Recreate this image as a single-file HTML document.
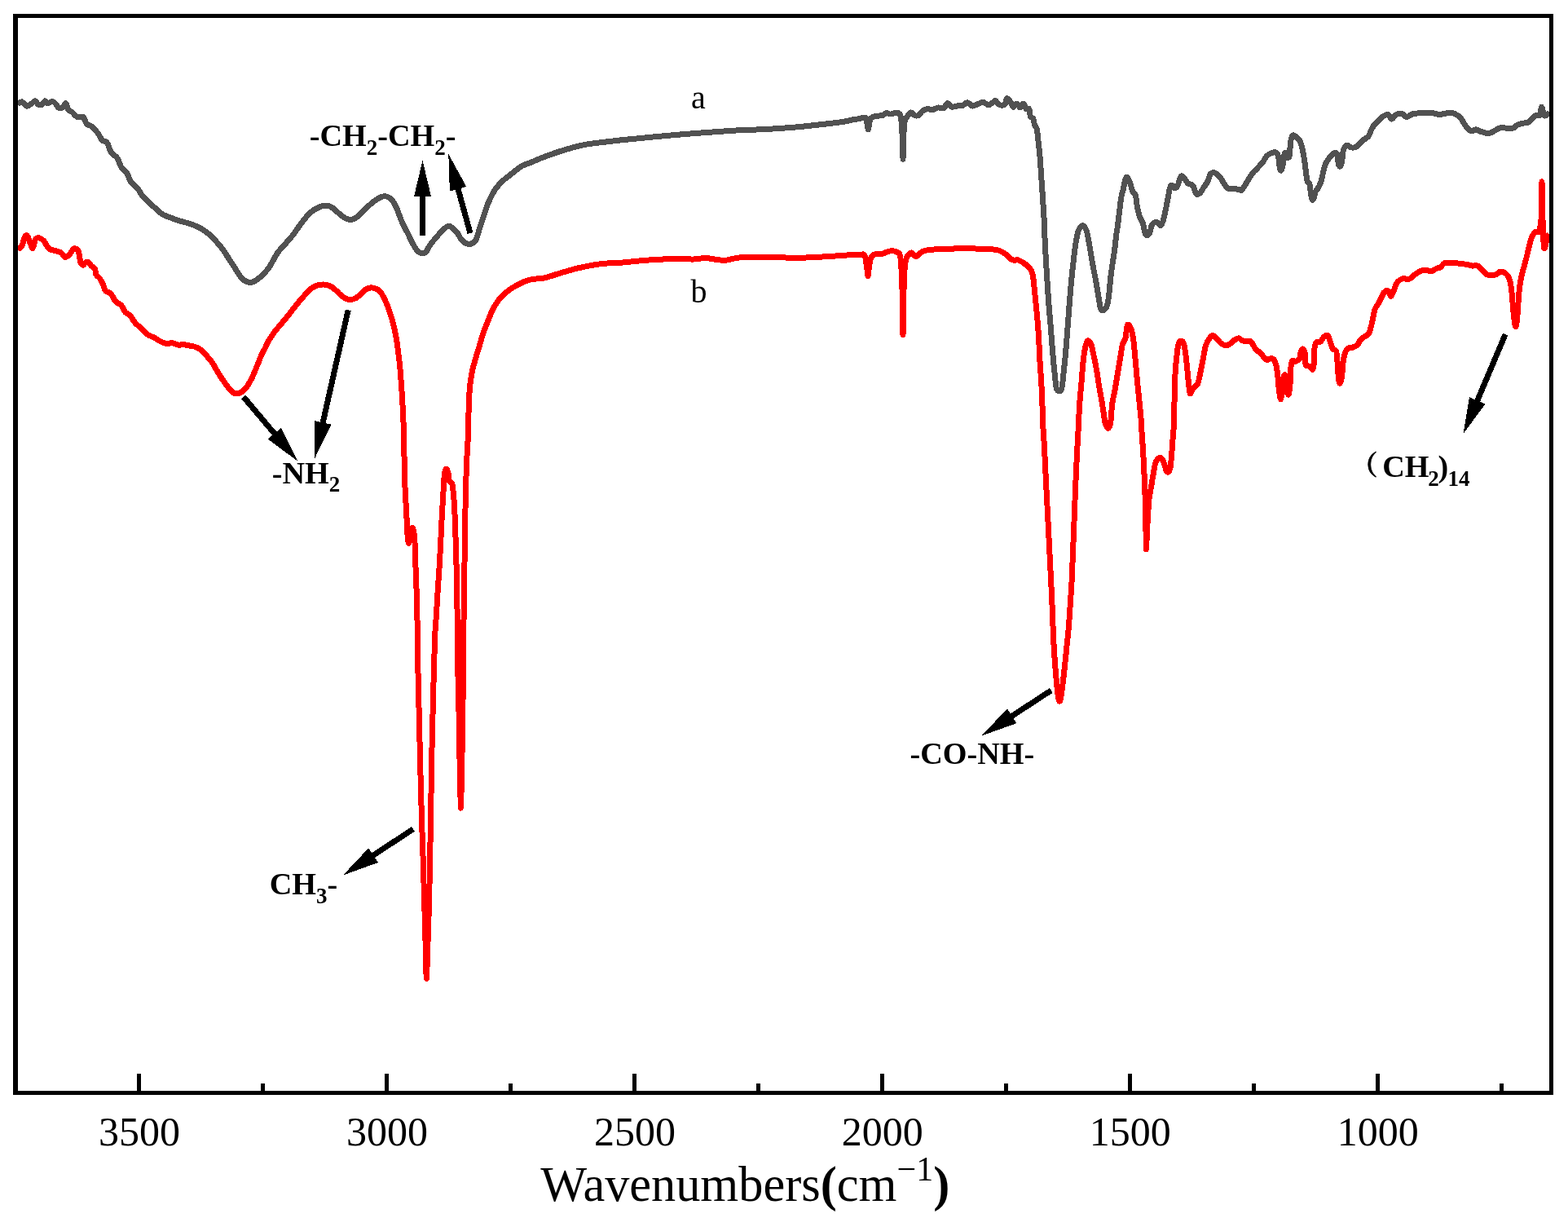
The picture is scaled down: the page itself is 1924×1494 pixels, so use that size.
<!DOCTYPE html>
<html lang="en"><head><meta charset="utf-8"><title>FTIR spectra</title>
<style>html,body{margin:0;padding:0;background:#fff;width:1924px;height:1494px;overflow:hidden}svg{display:block}text{font-family:"Liberation Serif","Noto Serif CJK SC",serif;fill:#000}.b{font-weight:bold}</style></head>
<body>
<svg width="1924" height="1494" viewBox="0 0 1924 1494">
<rect width="1924" height="1494" fill="#fff"/>
<g shape-rendering="crispEdges" fill="none" stroke-linejoin="round" stroke-linecap="butt" stroke-width="7.0">
<path stroke="#515151" d="M21.8,127.7 C22.6,127.2 25.0,124.4 26.8,124.9 C28.6,125.3 30.7,129.8 32.6,130.2 C34.6,130.6 36.7,128.3 38.5,127.2 C40.3,126.1 41.8,123.7 43.2,123.8 C44.6,124.0 45.4,127.5 46.9,128.2 C48.3,128.9 50.5,128.9 51.9,128.2 C53.3,127.5 54.1,124.1 55.2,123.8 C56.3,123.6 57.0,126.8 58.6,126.9 C60.1,126.9 62.8,124.2 64.4,124.4 C66.1,124.5 67.4,126.4 68.6,127.7 C69.9,129.0 70.6,131.5 72.0,132.2 C73.4,132.9 75.5,132.8 77.0,131.9 C78.4,130.9 79.6,126.1 80.7,126.5 C81.8,126.9 82.3,132.5 83.7,134.4 C85.0,136.3 86.9,136.3 88.7,137.7 C90.5,139.2 92.3,142.3 94.6,143.3 C96.8,144.2 100.1,142.1 102.1,143.6 C104.0,145.0 104.6,150.1 106.3,152.0 C107.9,153.9 109.9,153.2 112.1,155.0 C114.4,156.8 117.4,160.0 119.7,162.8 C121.9,165.7 123.6,170.0 125.5,172.1 C127.5,174.1 129.6,172.6 131.4,175.1 C133.2,177.6 134.3,184.0 136.4,187.1 C138.5,190.2 141.8,190.7 143.9,193.8 C146.0,196.9 147.0,202.5 149.0,205.5 C150.9,208.6 153.7,209.3 155.6,212.2 C157.6,215.1 158.4,219.9 160.7,223.1 C162.9,226.3 166.5,228.4 169.0,231.5 C171.5,234.5 172.4,237.7 175.7,241.5 C179.1,245.3 185.2,250.5 189.1,254.1 C193.0,257.6 194.4,260.1 199.2,262.8 C203.9,265.4 211.3,267.8 217.6,270.0 C223.9,272.1 231.1,273.5 237.0,275.9 C242.9,278.3 247.7,280.4 253.2,284.6 C258.7,288.8 264.9,295.5 269.8,301.3 C274.7,307.1 278.2,313.4 282.3,319.6 C286.4,325.8 291.8,334.6 294.7,338.7 C297.6,342.8 298.1,342.7 300.0,344.0 C301.9,345.3 304.2,346.3 306.4,346.4 C308.6,346.5 310.8,345.8 313.0,344.6 C315.2,343.5 316.9,342.2 319.7,339.5 C322.5,336.8 326.6,333.1 330.0,328.3 C333.4,323.5 336.8,315.6 340.2,310.7 C343.5,305.8 346.9,302.9 350.2,299.0 C353.6,295.0 356.9,291.6 360.3,287.2 C363.6,282.9 366.9,277.3 370.3,273.0 C373.6,268.7 377.0,264.4 380.3,261.3 C383.7,258.2 387.0,256.1 390.4,254.6 C393.7,253.1 397.4,252.0 400.4,252.1 C403.5,252.2 406.0,253.6 408.8,255.4 C411.6,257.3 414.4,260.8 417.2,263.0 C419.9,265.1 423.0,267.5 425.5,268.5 C428.0,269.5 430.0,269.7 432.2,269.2 C434.4,268.7 436.4,267.5 438.9,265.5 C441.4,263.5 444.5,259.8 447.3,257.1 C450.1,254.5 453.1,251.7 455.6,249.6 C458.2,247.5 460.1,246.0 462.3,244.6 C464.6,243.2 466.8,241.7 469.0,241.2 C471.3,240.7 473.6,240.7 475.7,241.5 C477.8,242.4 479.6,243.6 481.6,246.2 C483.5,248.8 485.6,253.1 487.4,257.1 C489.3,261.2 490.2,265.5 492.5,270.5 C494.7,275.5 498.3,282.2 500.8,287.2 C503.3,292.3 505.6,297.1 507.5,300.6 C509.5,304.1 510.9,306.5 512.6,308.2 C514.2,309.8 515.9,310.5 517.6,310.7 C519.2,310.8 520.9,310.7 522.6,309.0 C524.3,307.3 525.7,303.4 527.6,300.6 C529.6,297.8 531.8,295.2 534.3,292.3 C536.8,289.3 540.2,285.5 542.7,283.1 C545.2,280.6 547.4,278.2 549.4,277.5 C551.3,276.8 552.4,277.5 554.4,278.9 C556.3,280.2 559.1,283.1 561.1,285.6 C563.0,288.1 564.4,291.8 566.1,293.9 C567.8,296.0 569.3,297.2 571.1,298.1 C572.9,299.0 574.8,300.2 577.0,299.5 C579.1,298.8 582.1,297.5 584.1,293.9 C586.1,290.3 587.6,282.8 589.1,278.1 C590.6,273.4 591.9,269.8 593.3,265.6 C594.7,261.5 596.0,256.9 597.4,253.2 C598.8,249.5 600.1,246.4 601.6,243.2 C603.1,240.0 604.9,236.6 606.6,234.0 C608.3,231.4 609.7,229.6 611.6,227.4 C613.5,225.2 615.7,222.9 618.2,220.7 C620.7,218.5 623.7,216.3 626.5,214.1 C629.3,211.9 632.5,209.2 634.9,207.4 C637.3,205.6 638.6,204.4 641.0,203.2 C643.4,202.0 646.7,201.2 649.0,200.3 C651.3,199.4 652.9,198.6 655.0,197.7 C657.1,196.8 659.0,195.9 661.5,194.9 C664.0,193.9 665.9,193.1 670.0,191.6 C674.1,190.1 680.5,187.8 686.0,186.0 C691.5,184.2 697.3,182.4 703.0,180.9 C708.7,179.4 714.5,178.0 720.0,177.0 C725.5,176.0 729.7,175.7 736.0,174.9 C742.3,174.1 750.7,173.1 758.0,172.3 C765.3,171.5 773.0,170.8 780.0,170.1 C787.0,169.4 793.0,168.8 800.0,168.1 C807.0,167.4 815.0,166.7 822.0,166.1 C829.0,165.5 835.2,164.9 842.0,164.4 C848.8,163.9 856.0,163.3 863.0,162.8 C870.0,162.3 877.0,161.8 884.0,161.3 C891.0,160.8 896.8,160.3 905.0,159.9 C913.2,159.5 927.6,159.0 933.5,158.8 C939.3,158.6 935.6,158.8 940.0,158.5 C944.4,158.2 953.0,157.7 960.0,157.2 C967.0,156.7 975.0,156.2 982.0,155.5 C989.0,154.8 995.2,154.1 1002.0,153.3 C1008.8,152.5 1017.5,151.6 1023.0,150.9 C1028.5,150.2 1031.1,150.0 1035.0,149.3 C1038.9,148.6 1043.8,147.4 1046.6,146.8 C1049.4,146.2 1049.4,146.4 1052.0,146.0 C1054.6,145.6 1060.0,143.8 1062.0,144.6 C1063.8,145.3 1063.3,148.0 1063.8,150.4 C1064.4,152.8 1064.9,158.8 1065.4,158.8 C1065.9,158.8 1066.3,152.7 1066.9,150.4 C1067.4,148.1 1067.5,146.4 1068.7,145.1 C1069.9,143.7 1071.8,142.9 1074.1,142.4 C1076.3,141.8 1080.2,142.3 1082.4,141.7 C1084.7,141.1 1085.8,139.0 1087.4,138.7 C1089.1,138.4 1090.8,140.0 1092.5,140.0 C1094.1,140.0 1095.6,138.8 1097.5,138.7 C1099.4,138.6 1102.4,137.6 1103.8,139.5 C1105.3,141.5 1105.6,144.4 1106.2,150.4 C1106.8,156.4 1107.2,168.0 1107.5,175.5 C1107.8,183.0 1107.9,195.3 1108.0,195.3 C1108.2,195.3 1108.2,183.0 1108.5,175.5 C1108.8,168.0 1109.1,155.7 1109.9,150.4 C1110.6,145.1 1111.6,145.8 1112.9,143.7 C1114.2,141.6 1116.0,138.2 1117.6,137.9 C1119.2,137.5 1120.9,141.2 1122.6,141.7 C1124.3,142.3 1126.1,142.1 1127.6,141.2 C1129.1,140.3 1130.1,137.4 1131.8,136.2 C1133.5,134.9 1135.6,134.0 1137.7,133.7 C1139.7,133.4 1142.1,134.8 1144.4,134.5 C1146.6,134.2 1148.8,132.3 1151.0,132.0 C1153.3,131.7 1155.8,133.7 1157.7,132.8 C1159.7,132.0 1161.1,126.9 1162.8,126.7 C1164.4,126.4 1165.6,130.7 1167.8,131.2 C1170.0,131.6 1173.9,129.8 1176.2,129.5 C1178.4,129.2 1179.4,130.1 1181.2,129.5 C1183.0,128.9 1185.1,125.6 1187.0,125.6 C1189.0,125.7 1190.8,129.6 1192.9,130.0 C1195.0,130.4 1197.4,128.6 1199.6,127.8 C1201.8,127.0 1204.0,125.2 1206.3,125.3 C1208.5,125.5 1210.7,128.8 1213.0,128.7 C1215.3,128.5 1218.5,125.3 1220.0,124.5 C1221.5,123.6 1220.8,123.0 1221.8,123.6 C1222.7,124.3 1224.1,127.5 1225.9,128.3 C1227.8,129.1 1231.0,129.6 1232.6,128.3 C1234.3,127.0 1234.4,121.1 1235.6,120.6 C1236.9,120.1 1238.9,123.6 1240.2,125.3 C1241.5,127.1 1242.3,130.9 1243.5,131.2 C1244.8,131.5 1246.3,126.8 1247.7,127.0 C1249.1,127.1 1250.5,132.0 1251.9,132.0 C1253.3,132.0 1254.8,126.7 1256.1,127.0 C1257.3,127.3 1258.3,132.6 1259.4,133.7 C1260.5,134.8 1261.9,132.1 1262.8,133.7 C1263.6,135.2 1263.6,140.9 1264.4,142.9 C1265.3,144.8 1266.9,143.7 1267.8,145.4 C1268.6,147.1 1268.7,150.7 1269.5,152.9 C1270.2,155.2 1271.5,154.7 1272.3,158.8 C1273.1,162.8 1273.8,171.3 1274.5,177.2 C1275.1,183.1 1275.7,188.4 1276.2,193.9 C1276.6,199.5 1276.9,204.5 1277.3,210.7 C1277.7,216.8 1278.2,224.1 1278.7,230.8 C1279.1,237.4 1279.6,244.1 1280.0,250.8 C1280.4,257.5 1280.8,262.7 1281.2,270.9 C1281.6,279.1 1281.8,289.0 1282.3,300.0 C1282.9,311.0 1283.8,325.2 1284.5,336.9 C1285.2,348.7 1285.9,359.3 1286.7,370.4 C1287.5,381.6 1288.6,392.7 1289.5,403.9 C1290.4,415.0 1291.2,427.6 1292.1,437.4 C1292.9,447.1 1293.9,456.1 1294.6,462.5 C1295.3,468.9 1295.4,472.9 1296.2,475.9 C1297.1,478.8 1298.5,480.0 1299.6,480.0 C1300.7,480.0 1302.0,480.2 1302.9,475.9 C1303.9,471.5 1304.6,461.9 1305.4,454.1 C1306.3,446.3 1307.1,438.8 1307.9,429.0 C1308.8,419.2 1309.5,408.1 1310.5,395.5 C1311.4,383.0 1312.7,366.2 1313.8,353.7 C1314.9,341.1 1316.0,330.0 1317.2,320.2 C1318.3,310.4 1319.4,301.5 1320.5,295.1 C1321.6,288.7 1322.5,284.8 1323.8,281.7 C1325.2,278.6 1327.0,276.6 1328.5,276.7 C1330.1,276.8 1331.7,278.9 1333.1,282.6 C1334.4,286.2 1335.1,291.6 1336.4,298.5 C1337.7,305.3 1339.2,315.7 1340.6,323.6 C1342.0,331.4 1343.4,337.5 1344.8,345.3 C1346.2,353.1 1348.0,364.8 1349.0,370.4 C1349.9,376.0 1349.8,377.1 1350.6,378.8 C1351.5,380.5 1352.7,381.0 1354.0,380.5 C1355.2,379.9 1357.0,378.5 1358.2,375.4 C1359.3,372.4 1359.8,368.5 1360.7,362.1 C1361.5,355.6 1362.1,345.9 1363.2,336.9 C1364.3,328.0 1366.2,316.9 1367.4,308.5 C1368.5,300.1 1369.3,291.0 1369.9,286.7 C1370.4,282.4 1370.2,286.7 1370.7,282.6 C1371.3,278.6 1372.4,269.2 1373.2,262.6 C1374.1,255.9 1374.9,247.5 1375.7,242.5 C1376.6,237.4 1377.4,236.1 1378.2,232.4 C1379.1,228.8 1380.0,223.2 1380.8,220.7 C1381.5,218.2 1382.0,216.8 1382.9,217.4 C1383.9,217.9 1385.4,221.0 1386.6,224.1 C1387.8,227.1 1388.8,233.3 1390.0,235.8 C1391.1,238.3 1392.3,235.8 1393.3,239.1 C1394.3,242.5 1394.8,251.1 1395.8,255.9 C1396.8,260.6 1398.0,264.5 1399.2,267.6 C1400.3,270.6 1401.5,271.2 1402.5,274.3 C1403.5,277.3 1404.2,283.6 1405.0,286.0 C1405.9,288.4 1406.6,288.6 1407.5,288.5 C1408.5,288.4 1409.9,287.2 1410.9,285.1 C1411.9,283.1 1412.3,278.0 1413.4,275.9 C1414.5,273.8 1416.3,273.0 1417.6,272.6 C1418.8,272.2 1419.8,272.7 1420.9,273.4 C1422.0,274.1 1423.2,277.5 1424.3,276.8 C1425.4,276.1 1426.5,273.0 1427.6,269.2 C1428.7,265.5 1430.0,258.9 1431.0,254.2 C1431.9,249.4 1432.6,245.0 1433.5,240.8 C1434.3,236.6 1435.1,231.3 1436.0,229.1 C1436.8,226.8 1437.5,227.1 1438.5,227.4 C1439.5,227.7 1440.7,230.8 1441.8,230.8 C1443.0,230.8 1444.2,229.4 1445.2,227.4 C1446.2,225.5 1446.9,221.0 1447.7,219.0 C1448.5,217.1 1449.2,215.7 1450.2,215.7 C1451.2,215.7 1452.3,217.5 1453.6,219.0 C1454.8,220.6 1456.1,223.5 1457.7,224.9 C1459.4,226.3 1462.2,225.9 1463.6,227.4 C1465.0,228.9 1465.3,232.3 1466.1,234.1 C1466.9,235.9 1467.5,237.9 1468.6,238.3 C1469.7,238.7 1471.4,238.0 1472.8,236.6 C1474.2,235.2 1475.5,232.3 1477.0,229.9 C1478.5,227.5 1480.6,225.2 1482.0,222.4 C1483.4,219.6 1483.8,214.9 1485.4,213.2 C1486.9,211.5 1489.3,211.6 1491.2,212.3 C1493.2,213.0 1495.4,215.4 1497.1,217.4 C1498.7,219.3 1499.7,221.8 1501.3,224.1 C1502.8,226.3 1504.3,229.6 1506.3,230.8 C1508.2,232.0 1510.7,231.0 1513.0,231.3 C1515.3,231.5 1518.3,232.1 1520.0,232.4 C1521.7,232.8 1522.2,234.1 1523.4,233.3 C1524.7,232.4 1526.1,229.8 1527.6,227.4 C1529.1,225.0 1531.0,221.7 1532.6,219.0 C1534.3,216.4 1535.8,213.7 1537.7,211.5 C1539.5,209.3 1541.6,207.7 1543.5,205.6 C1545.5,203.6 1547.6,201.3 1549.4,199.0 C1551.2,196.6 1552.6,193.3 1554.4,191.4 C1556.2,189.5 1558.3,188.3 1560.3,187.6 C1562.2,186.9 1564.7,186.5 1566.1,187.2 C1567.5,188.0 1568.0,189.5 1568.6,192.3 C1569.3,195.0 1569.4,201.2 1570.0,204.0 C1570.5,206.8 1571.2,209.6 1572.0,209.0 C1572.7,208.4 1573.8,204.0 1574.5,200.6 C1575.2,197.3 1575.5,191.0 1576.2,188.9 C1576.8,186.8 1578.0,187.4 1578.7,188.1 C1579.4,188.8 1579.7,192.7 1580.3,193.1 C1580.9,193.5 1581.8,193.8 1582.3,190.6 C1582.9,187.4 1583.0,177.9 1583.7,173.8 C1584.3,169.8 1585.2,167.4 1586.2,166.3 C1587.2,165.2 1588.1,166.2 1589.5,167.2 C1590.9,168.1 1593.2,169.7 1594.6,172.2 C1596.0,174.7 1596.9,178.3 1597.9,182.2 C1598.9,186.1 1599.7,190.9 1600.4,195.6 C1601.2,200.3 1601.8,206.2 1602.4,210.7 C1603.0,215.1 1603.4,219.9 1604.1,222.4 C1604.8,224.9 1606.1,223.2 1606.8,225.7 C1607.5,228.2 1607.9,234.2 1608.5,237.4 C1609.0,240.7 1609.5,244.1 1610.1,245.0 C1610.8,245.8 1611.9,244.0 1612.5,242.5 C1613.1,240.9 1613.0,237.7 1613.8,235.8 C1614.6,233.8 1616.0,232.7 1617.2,230.8 C1618.3,228.8 1619.5,226.8 1620.5,224.1 C1621.5,221.3 1622.2,217.4 1623.0,214.0 C1623.8,210.7 1624.7,206.6 1625.5,204.0 C1626.4,201.3 1626.9,200.1 1628.0,198.1 C1629.1,196.2 1630.7,194.0 1632.2,192.3 C1633.8,190.5 1635.8,188.1 1637.2,187.6 C1638.6,187.0 1639.7,186.7 1640.6,188.9 C1641.4,191.1 1641.6,198.1 1642.3,200.6 C1642.9,203.1 1643.6,204.3 1644.3,204.0 C1645.0,203.7 1645.8,202.0 1646.4,199.0 C1647.1,195.9 1647.4,188.8 1648.1,185.6 C1648.8,182.4 1649.7,180.9 1650.6,179.7 C1651.6,178.5 1652.7,178.3 1654.0,178.5 C1655.2,178.7 1656.5,180.6 1658.2,180.9 C1659.8,181.2 1662.3,181.0 1664.0,180.2 C1665.7,179.5 1666.8,177.7 1668.2,176.4 C1669.6,175.0 1670.6,173.7 1672.4,172.2 C1674.2,170.6 1677.4,169.2 1679.1,167.2 C1680.8,165.1 1681.3,161.9 1682.4,159.6 C1683.5,157.4 1684.4,155.6 1685.8,153.8 C1687.2,152.0 1688.8,150.6 1690.8,148.7 C1692.7,146.9 1695.4,143.9 1697.5,142.6 C1699.6,141.2 1701.7,139.8 1703.3,140.4 C1705.0,141.0 1705.9,146.2 1707.5,146.2 C1709.2,146.2 1711.2,141.4 1713.4,140.4 C1715.6,139.3 1718.8,139.4 1720.9,139.9 C1723.0,140.4 1723.7,143.4 1725.9,143.4 C1728.2,143.3 1731.0,140.3 1734.3,139.5 C1737.7,138.8 1742.4,138.9 1746.0,138.7 C1749.7,138.5 1752.7,138.1 1756.1,138.4 C1759.4,138.6 1762.8,140.3 1766.1,140.4 C1769.5,140.4 1773.5,139.0 1776.2,138.7 C1778.8,138.4 1780.1,137.9 1782.0,138.4 C1784.0,138.8 1786.1,140.0 1787.9,141.2 C1789.7,142.4 1791.2,143.3 1792.9,145.4 C1794.6,147.5 1796.2,151.4 1797.9,153.8 C1799.6,156.1 1801.4,158.5 1802.9,159.6 C1804.5,160.7 1805.7,160.6 1807.1,160.5 C1808.5,160.3 1809.8,158.6 1811.3,158.8 C1812.8,158.9 1814.9,160.7 1816.3,161.3 C1817.8,161.9 1818.6,161.8 1820.0,162.1 C1821.4,162.5 1823.3,163.4 1824.9,163.5 C1826.6,163.5 1828.0,163.2 1829.9,162.5 C1831.9,161.7 1834.7,159.8 1836.6,158.8 C1838.6,157.8 1839.7,156.9 1841.7,156.6 C1843.6,156.3 1845.8,157.0 1848.4,157.1 C1850.9,157.2 1854.5,157.7 1856.7,157.1 C1859.0,156.5 1859.8,154.4 1861.7,153.4 C1863.7,152.5 1866.2,151.8 1868.4,151.3 C1870.7,150.7 1873.2,151.1 1875.1,150.1 C1877.1,149.1 1878.6,146.8 1880.2,145.4 C1881.7,144.0 1882.8,142.4 1884.3,141.7 C1885.9,141.0 1888.2,142.8 1889.4,141.2 C1890.5,139.7 1890.7,133.8 1891.2,132.3 C1891.7,130.9 1891.6,130.9 1892.2,132.3 C1892.8,133.8 1893.6,139.7 1894.5,141.2 C1895.5,142.7 1896.6,141.8 1897.7,141.2 C1898.8,140.7 1900.5,138.4 1901.1,137.9"/>
<path stroke="#ff0000" d="M21.8,306.1 C22.6,305.4 25.4,304.4 26.8,301.9 C28.2,299.4 29.0,293.1 30.1,291.0 C31.2,288.9 32.3,288.1 33.5,289.3 C34.6,290.6 36.0,296.0 37.2,298.5 C38.3,301.0 39.1,305.2 40.2,304.4 C41.2,303.6 42.3,295.6 43.5,293.5 C44.8,291.4 46.0,291.6 47.7,291.8 C49.4,292.1 51.9,293.5 53.6,295.2 C55.2,296.9 56.3,300.1 57.7,301.9 C59.1,303.7 60.1,305.1 61.9,306.1 C63.7,307.0 66.4,307.0 68.6,307.7 C70.9,308.4 73.4,308.9 75.3,310.3 C77.2,311.6 78.3,315.3 80.0,315.6 C81.7,315.9 83.8,313.5 85.4,311.9 C86.9,310.3 88.4,307.3 89.5,306.1 C90.7,304.9 90.9,304.3 92.1,304.7 C93.2,305.1 95.1,305.8 96.2,308.6 C97.4,311.3 97.8,318.3 98.7,321.1 C99.7,323.9 100.8,325.1 101.8,325.3 C102.7,325.5 103.6,322.9 104.6,322.3 C105.6,321.7 106.7,321.0 107.9,321.6 C109.2,322.3 110.7,324.8 112.1,326.2 C113.5,327.5 115.3,327.7 116.3,329.5 C117.3,331.3 117.0,335.1 118.0,337.0 C119.0,339.0 120.8,339.3 122.2,341.2 C123.6,343.2 125.1,346.1 126.4,348.7 C127.6,351.4 128.2,355.3 129.7,357.1 C131.2,358.9 133.8,357.8 135.6,359.6 C137.4,361.4 139.2,366.0 140.6,368.0 C142.0,369.9 142.5,370.2 143.9,371.3 C145.3,372.5 147.3,372.7 149.0,374.7 C150.6,376.6 152.2,381.0 154.0,383.1 C155.8,385.1 158.0,385.3 159.8,387.2 C161.6,389.2 163.3,392.8 164.9,394.8 C166.4,396.7 167.2,397.3 169.0,399.0 C170.9,400.6 173.6,402.9 175.7,404.8 C177.8,406.8 179.4,409.1 181.6,410.7 C183.8,412.2 186.8,412.8 189.1,414.0 C191.5,415.3 193.3,416.9 195.8,418.2 C198.3,419.5 201.7,421.1 204.2,421.5 C206.7,422.0 208.4,420.4 210.9,420.7 C213.4,421.0 217.0,422.9 219.2,423.2 C221.5,423.5 222.0,422.2 224.3,422.4 C226.5,422.5 230.1,423.6 232.6,424.1 C235.1,424.6 236.8,424.4 239.3,425.4 C241.8,426.4 245.2,427.9 247.7,429.9 C250.2,431.9 252.2,434.8 254.4,437.4 C256.6,440.1 258.9,442.5 261.1,445.8 C263.3,449.2 265.6,453.9 267.8,457.5 C270.0,461.2 272.2,464.4 274.5,467.6 C276.7,470.8 279.2,474.4 281.2,476.8 C283.1,479.1 284.5,480.8 286.2,481.8 C287.9,482.8 289.5,482.8 291.2,482.6 C292.9,482.5 294.3,482.4 296.2,481.0 C298.2,479.6 300.7,477.3 302.9,474.3 C305.2,471.2 307.7,466.5 309.6,462.6 C311.6,458.6 312.9,455.0 314.6,450.8 C316.4,446.7 318.3,441.4 320.0,437.4 C321.7,433.5 323.4,430.6 325.1,427.2 C326.8,423.8 328.2,420.5 330.1,417.2 C332.1,413.8 334.3,410.5 336.8,407.1 C339.3,403.8 342.4,400.4 345.2,397.1 C348.0,393.7 350.8,390.5 353.6,387.0 C356.3,383.5 359.1,379.6 361.9,376.2 C364.7,372.7 367.2,369.6 370.3,366.1 C373.4,362.6 377.3,357.9 380.3,355.2 C383.4,352.6 385.9,351.2 388.7,350.2 C391.5,349.2 394.3,348.9 397.1,349.0 C399.9,349.2 402.9,349.9 405.4,351.0 C407.9,352.2 410.2,354.4 412.1,356.1 C414.1,357.7 415.2,359.4 417.2,361.1 C419.1,362.8 421.6,365.0 423.8,366.1 C426.1,367.2 428.5,367.5 430.5,367.4 C432.6,367.4 434.4,366.8 436.4,365.8 C438.4,364.7 440.3,362.8 442.3,361.1 C444.2,359.4 446.2,356.9 448.1,355.6 C450.1,354.2 452.0,353.4 454.0,353.1 C455.9,352.7 457.9,352.9 459.8,353.6 C461.8,354.2 463.9,355.1 465.7,356.9 C467.5,358.7 469.2,361.6 470.7,364.4 C472.2,367.2 473.5,370.2 474.9,373.6 C476.3,377.1 477.8,381.5 479.1,385.4 C480.3,389.3 481.3,392.6 482.4,397.1 C483.5,401.5 484.8,406.8 485.8,412.1 C486.8,417.4 487.4,422.5 488.3,428.9 C489.1,435.3 490.1,443.4 490.8,450.6 C491.5,457.9 492.0,465.4 492.5,472.4 C493.0,479.4 493.4,484.9 493.8,492.5 C494.2,500.0 494.6,508.0 495.0,517.6 C495.3,527.2 495.5,537.9 495.8,550.0 C496.1,562.1 496.4,579.3 496.7,590.2 C497.1,601.1 497.5,607.5 497.9,615.3 C498.3,623.1 498.7,630.1 499.1,637.1 C499.4,644.0 499.6,652.3 500.1,657.2 C500.5,662.0 501.1,666.6 501.8,666.4 C502.4,666.1 503.1,658.7 503.8,655.5 C504.4,652.3 505.1,647.4 505.8,647.1 C506.5,646.8 507.4,650.5 507.9,653.8 C508.5,657.2 508.8,661.1 509.1,667.2 C509.4,673.3 509.5,682.5 509.8,690.6 C510.1,698.7 510.5,707.4 510.8,715.7 C511.1,724.1 511.4,732.5 511.6,740.8 C511.9,749.2 512.0,757.7 512.1,765.9 C512.2,774.1 512.1,779.3 512.3,790.0 C512.5,800.8 512.8,815.1 513.1,830.2 C513.5,845.3 513.9,863.7 514.3,880.4 C514.7,897.2 515.1,913.9 515.5,930.6 C515.9,947.4 516.3,964.3 516.8,980.8 C517.3,997.4 517.9,1015.9 518.3,1030.0 C518.8,1044.1 519.1,1052.5 519.5,1065.3 C519.9,1078.2 520.3,1094.6 520.7,1107.2 C521.0,1119.7 521.4,1129.5 521.7,1140.6 C522.0,1151.8 522.2,1164.1 522.5,1174.1 C522.8,1184.1 523.0,1200.5 523.3,1200.5 C523.7,1200.5 524.0,1184.1 524.4,1174.1 C524.7,1164.1 525.1,1153.2 525.5,1140.6 C525.9,1128.1 526.4,1112.7 526.7,1098.8 C527.0,1084.8 527.3,1069.5 527.5,1056.9 C527.8,1044.4 528.0,1034.6 528.2,1023.5 C528.4,1012.3 528.6,997.1 528.7,990.0 C528.8,982.9 528.7,990.7 528.9,980.8 C529.0,970.9 529.4,947.4 529.7,930.6 C530.0,913.9 530.5,897.2 530.9,880.4 C531.3,863.7 531.7,846.9 532.2,830.2 C532.7,813.5 533.2,792.1 533.7,780.0 C534.2,767.9 534.6,766.9 535.2,757.6 C535.8,748.3 536.5,735.3 537.2,724.1 C537.9,712.9 538.8,701.8 539.4,690.6 C540.1,679.5 540.5,668.3 541.1,657.2 C541.6,646.0 542.2,633.4 542.8,623.7 C543.3,613.9 543.8,605.8 544.3,598.6 C544.7,591.3 545.0,584.1 545.6,580.2 C546.2,576.3 547.3,574.9 548.1,575.1 C548.9,575.4 549.7,579.3 550.3,581.8 C550.9,584.4 550.7,588.3 551.5,590.2 C552.2,592.2 554.0,590.8 554.8,593.6 C555.6,596.3 556.0,601.9 556.5,606.9 C557.0,612.0 557.3,616.7 557.7,623.7 C558.0,630.7 558.4,640.4 558.7,648.8 C559.0,657.2 559.2,665.5 559.5,673.9 C559.7,682.3 560.0,690.6 560.2,699.0 C560.4,707.4 560.5,714.3 560.7,724.1 C560.8,733.9 561.0,746.6 561.2,757.6 C561.3,768.6 561.4,777.9 561.5,790.0 C561.6,802.1 561.7,815.1 562.0,830.2 C562.3,845.3 562.8,863.7 563.2,880.4 C563.5,897.2 563.7,915.3 564.0,930.6 C564.3,946.0 564.6,962.4 564.9,972.5 C565.1,982.6 565.2,991.2 565.4,991.2 C565.6,991.2 565.8,982.6 566.0,972.5 C566.3,962.4 566.6,946.0 566.9,930.6 C567.1,915.3 567.4,897.2 567.7,880.4 C567.9,863.7 568.2,846.9 568.4,830.2 C568.5,813.5 568.5,794.9 568.7,780.0 C568.9,765.1 569.1,755.7 569.4,740.8 C569.6,725.9 569.8,707.4 570.0,690.6 C570.3,673.9 570.5,655.8 570.7,640.4 C571.0,625.1 571.2,611.1 571.5,598.6 C571.9,586.0 572.3,574.9 572.7,565.1 C573.1,555.3 573.5,553.5 574.1,540.0 C574.6,526.5 575.0,497.6 575.8,484.1 C576.6,470.6 577.5,466.0 578.7,459.0 C579.8,452.0 581.3,447.8 582.8,442.3 C584.4,436.7 586.2,431.1 587.9,425.5 C589.5,419.9 590.9,414.6 592.9,408.8 C594.9,403.0 598.1,395.2 600.0,390.6 C601.9,386.0 602.6,383.9 604.0,381.0 C605.4,378.1 606.6,375.7 608.3,373.1 C610.0,370.5 611.9,367.9 614.0,365.5 C616.1,363.1 618.6,360.7 620.8,358.8 C623.0,356.9 624.9,355.6 627.0,354.2 C629.1,352.8 631.0,351.7 633.3,350.4 C635.6,349.1 638.2,347.6 641.0,346.4 C643.8,345.2 647.1,343.9 649.9,343.2 C652.7,342.5 655.2,342.3 658.0,342.0 C660.8,341.7 663.7,341.8 666.5,341.3 C669.3,340.8 672.2,339.8 675.0,339.0 C677.8,338.2 679.9,337.3 683.2,336.3 C686.5,335.3 690.9,334.0 695.0,332.8 C699.1,331.6 703.9,330.2 708.1,329.2 C712.3,328.2 715.8,327.4 720.0,326.6 C724.2,325.8 728.9,324.8 733.1,324.2 C737.3,323.6 740.5,323.3 745.0,323.0 C749.5,322.7 754.8,322.8 760.0,322.4 C765.2,322.0 770.5,321.3 776.0,320.8 C781.5,320.3 787.6,319.6 793.3,319.2 C799.0,318.8 804.5,318.5 810.0,318.2 C815.5,317.9 821.5,317.6 826.5,317.5 C831.5,317.4 835.8,317.7 840.0,317.8 C844.2,317.9 848.2,318.1 851.5,318.0 C854.8,317.9 857.5,317.2 860.0,317.0 C862.5,316.8 863.4,316.3 866.4,316.5 C869.4,316.7 874.2,317.7 878.0,318.2 C881.8,318.7 885.4,319.5 888.9,319.4 C892.4,319.3 895.8,318.0 899.0,317.4 C902.2,316.8 904.5,316.2 908.0,315.9 C911.5,315.6 917.1,315.5 920.0,315.4 C922.9,315.3 920.1,315.3 925.1,315.4 C930.1,315.4 941.8,315.6 950.2,315.7 C958.6,315.8 968.1,316.2 975.3,316.2 C982.6,316.2 988.1,316.1 993.7,315.9 C999.3,315.7 1003.5,315.3 1008.8,315.0 C1014.1,314.7 1019.9,314.4 1025.5,314.0 C1031.1,313.7 1037.2,313.1 1042.3,312.8 C1047.3,312.6 1052.5,312.3 1055.6,312.3 C1058.8,312.4 1059.7,310.7 1061.0,313.2 C1062.3,315.6 1062.8,322.9 1063.5,327.1 C1064.2,331.3 1064.5,338.5 1065.0,338.5 C1065.5,338.5 1065.9,330.9 1066.5,327.1 C1067.2,323.2 1067.8,317.9 1069.0,315.4 C1070.3,312.8 1071.8,312.3 1074.1,311.7 C1076.3,311.0 1079.9,312.0 1082.4,311.5 C1084.9,311.0 1086.9,309.3 1089.1,308.7 C1091.4,308.0 1093.9,307.7 1095.8,307.8 C1097.8,308.0 1099.4,308.5 1100.8,309.5 C1102.3,310.5 1103.6,308.8 1104.5,313.7 C1105.5,318.6 1106.0,327.6 1106.5,338.8 C1107.0,349.9 1107.3,368.6 1107.5,380.6 C1107.8,392.6 1107.9,410.8 1108.0,410.8 C1108.2,410.8 1108.3,392.6 1108.5,380.6 C1108.8,368.6 1109.0,349.1 1109.5,338.8 C1110.0,328.5 1110.6,323.2 1111.5,318.7 C1112.5,314.2 1113.9,313.5 1115.1,312.0 C1116.2,310.6 1117.3,309.7 1118.4,310.0 C1119.5,310.3 1120.6,313.0 1121.8,313.7 C1122.9,314.4 1123.8,314.7 1125.1,314.2 C1126.4,313.6 1127.7,311.5 1129.3,310.3 C1130.9,309.2 1131.2,308.2 1134.9,307.4 C1138.6,306.6 1146.0,306.0 1151.6,305.6 C1157.1,305.2 1162.0,305.3 1168.2,305.1 C1174.4,304.9 1182.8,304.4 1189.0,304.5 C1195.2,304.6 1200.8,305.5 1205.6,305.7 C1210.4,305.9 1214.6,305.6 1218.1,305.9 C1221.6,306.2 1223.6,306.3 1226.4,307.4 C1229.2,308.5 1232.5,310.7 1234.7,312.4 C1236.9,314.1 1238.0,316.2 1239.7,317.4 C1241.4,318.6 1243.3,319.2 1244.7,319.4 C1246.1,319.6 1246.6,318.4 1248.0,318.6 C1249.4,318.8 1251.3,319.8 1253.0,320.7 C1254.7,321.6 1256.2,322.6 1258.0,324.0 C1259.8,325.4 1262.3,326.8 1263.8,329.0 C1265.3,331.2 1266.4,333.8 1267.2,337.3 C1268.0,340.8 1267.9,340.9 1268.8,349.8 C1269.7,358.7 1271.9,380.1 1272.8,390.5 C1273.7,400.9 1274.0,404.4 1274.5,412.3 C1275.0,420.1 1275.2,429.0 1275.6,437.4 C1276.1,445.7 1276.8,454.1 1277.3,462.5 C1277.8,470.8 1278.3,478.0 1278.7,487.6 C1279.1,497.2 1279.2,510.7 1279.7,520.0 C1280.1,529.4 1280.6,534.0 1281.2,543.5 C1281.7,553.0 1282.3,565.8 1282.8,576.9 C1283.4,588.1 1284.0,599.3 1284.5,610.4 C1285.1,621.6 1285.6,632.7 1286.2,643.9 C1286.8,655.0 1287.4,668.0 1287.9,677.4 C1288.3,686.7 1288.5,689.2 1289.0,700.0 C1289.6,710.7 1290.4,727.9 1291.0,741.8 C1291.6,755.8 1292.0,771.1 1292.6,783.7 C1293.3,796.2 1294.0,806.8 1294.8,817.2 C1295.6,827.5 1296.6,838.9 1297.3,845.6 C1298.0,852.3 1298.5,854.9 1299.0,857.3 C1299.5,859.8 1299.7,860.3 1300.2,860.3 C1300.6,860.3 1301.0,859.8 1301.5,857.3 C1302.0,854.9 1302.3,852.3 1303.2,845.6 C1304.0,838.9 1305.6,826.1 1306.5,817.2 C1307.5,808.2 1308.2,800.4 1309.0,792.1 C1309.9,783.7 1310.9,775.3 1311.5,766.9 C1312.2,758.6 1312.7,750.2 1313.2,741.8 C1313.8,733.5 1314.5,723.7 1314.9,716.7 C1315.3,709.8 1315.3,709.3 1315.6,700.0 C1316.0,690.6 1316.6,674.2 1317.2,660.6 C1317.7,647.1 1318.3,632.7 1318.8,618.8 C1319.4,604.8 1319.9,589.5 1320.5,576.9 C1321.1,564.4 1321.7,553.0 1322.2,543.5 C1322.7,534.0 1323.1,528.0 1323.5,520.0 C1323.9,512.1 1324.1,504.1 1324.7,495.9 C1325.2,487.7 1326.2,479.2 1326.9,470.8 C1327.6,462.5 1328.1,453.0 1328.9,445.7 C1329.6,438.5 1330.5,431.8 1331.4,427.3 C1332.2,422.9 1333.1,420.5 1333.9,419.0 C1334.6,417.4 1335.1,417.6 1335.9,418.1 C1336.7,418.7 1337.9,419.1 1338.9,422.3 C1340.0,425.5 1341.1,432.1 1342.3,437.4 C1343.4,442.7 1344.5,447.7 1345.6,454.1 C1346.7,460.5 1347.8,469.2 1349.0,475.9 C1350.1,482.6 1351.3,488.4 1352.3,494.3 C1353.3,500.1 1354.1,506.7 1354.8,511.0 C1355.5,515.3 1355.6,517.6 1356.5,520.0 C1357.3,522.4 1358.8,525.7 1359.8,525.4 C1360.9,525.1 1361.8,523.6 1362.7,518.4 C1363.5,513.2 1363.9,501.1 1364.9,494.3 C1365.8,487.5 1367.1,483.7 1368.2,477.5 C1369.3,471.4 1370.4,464.1 1371.5,457.4 C1372.7,450.8 1373.9,443.2 1374.9,437.4 C1375.9,431.5 1376.4,425.9 1377.4,422.3 C1378.4,418.7 1379.9,418.7 1380.8,415.6 C1381.6,412.5 1381.9,406.8 1382.4,403.9 C1383.0,401.0 1383.1,397.9 1384.1,398.0 C1385.1,398.2 1387.2,401.5 1388.3,404.7 C1389.4,407.9 1390.0,411.8 1390.8,417.3 C1391.5,422.7 1392.1,429.8 1392.8,437.4 C1393.5,444.9 1394.3,454.7 1395.0,462.5 C1395.7,470.3 1396.5,477.3 1397.2,484.2 C1397.9,491.2 1398.6,498.3 1399.2,504.3 C1399.7,510.3 1400.4,516.3 1400.7,520.0 C1400.8,523.8 1400.7,521.4 1400.8,526.7 C1401.1,532.0 1402.0,543.5 1402.5,551.8 C1403.0,560.2 1403.5,568.6 1403.8,576.9 C1404.2,585.3 1404.6,593.7 1404.9,602.1 C1405.1,610.4 1405.3,618.8 1405.5,627.2 C1405.7,635.5 1405.9,644.4 1406.0,652.3 C1406.2,660.1 1406.1,674.0 1406.4,674.0 C1406.6,674.0 1407.1,660.1 1407.5,652.3 C1407.9,644.4 1408.4,634.1 1408.9,627.2 C1409.3,620.2 1409.6,615.4 1410.2,610.4 C1410.8,605.4 1411.7,601.8 1412.6,597.0 C1413.4,592.3 1414.2,586.7 1415.1,582.0 C1415.9,577.2 1416.6,571.8 1417.6,568.6 C1418.5,565.4 1419.7,563.8 1420.9,562.7 C1422.2,561.7 1423.8,561.2 1425.1,562.2 C1426.4,563.2 1427.5,566.1 1428.5,568.6 C1429.4,571.0 1430.1,575.2 1431.0,576.9 C1431.8,578.7 1432.6,579.5 1433.5,579.0 C1434.3,578.4 1435.3,577.3 1436.0,573.6 C1436.7,569.9 1437.1,563.3 1437.7,556.9 C1438.2,550.4 1438.9,541.2 1439.3,535.1 C1439.8,529.0 1439.9,532.1 1440.3,520.0 C1440.8,507.9 1441.3,475.7 1441.8,462.5 C1442.4,449.2 1442.8,447.4 1443.5,440.7 C1444.2,434.0 1445.0,426.1 1446.0,422.3 C1447.0,418.5 1448.3,418.1 1449.4,418.1 C1450.5,418.1 1451.7,419.1 1452.7,422.3 C1453.7,425.5 1454.5,432.1 1455.2,437.4 C1455.9,442.7 1456.3,448.5 1456.9,454.1 C1457.5,459.7 1458.0,466.1 1458.6,470.8 C1459.1,475.6 1459.4,481.6 1460.3,482.6 C1461.1,483.5 1462.1,478.6 1463.6,476.7 C1465.1,474.7 1467.9,474.0 1469.5,470.8 C1471.0,467.6 1471.7,462.5 1472.8,457.4 C1473.9,452.4 1475.0,446.3 1476.2,440.7 C1477.3,435.1 1478.2,428.2 1479.5,424.0 C1480.8,419.8 1482.3,417.7 1483.7,415.6 C1485.1,413.5 1486.3,411.4 1487.9,411.4 C1489.4,411.4 1491.1,413.9 1492.9,415.6 C1494.7,417.3 1496.8,420.1 1498.7,421.5 C1500.7,422.9 1502.8,424.0 1504.6,424.0 C1506.4,424.0 1507.9,422.6 1509.6,421.5 C1511.3,420.3 1512.9,418.4 1514.6,417.3 C1516.4,416.2 1518.3,414.6 1520.0,414.8 C1521.7,414.9 1522.7,417.4 1525.1,418.0 C1527.5,418.7 1532.2,417.7 1534.3,418.5 C1536.4,419.4 1536.5,421.3 1537.7,423.1 C1538.8,424.8 1539.6,427.4 1541.0,428.9 C1542.4,430.4 1544.5,430.9 1546.0,432.3 C1547.6,433.7 1548.8,435.7 1550.2,437.3 C1551.6,438.8 1553.0,441.0 1554.4,441.5 C1555.8,441.9 1557.2,439.9 1558.6,439.8 C1560.0,439.7 1561.5,439.1 1562.8,440.6 C1564.0,442.2 1565.3,445.6 1566.1,449.0 C1566.9,452.3 1567.2,455.7 1567.8,460.7 C1568.3,465.7 1568.8,474.2 1569.5,479.1 C1570.1,484.0 1570.9,490.0 1571.6,490.0 C1572.3,490.0 1573.2,483.4 1573.6,479.1 C1574.1,474.8 1573.9,467.3 1574.5,464.1 C1575.0,460.9 1576.3,458.8 1577.0,459.9 C1577.7,461.0 1578.0,466.7 1578.7,470.8 C1579.3,474.8 1580.0,483.6 1580.7,484.1 C1581.4,484.7 1582.3,479.1 1582.8,474.1 C1583.3,469.1 1583.3,459.2 1583.7,454.0 C1584.1,448.9 1584.2,445.0 1585.4,443.1 C1586.5,441.3 1588.8,443.7 1590.4,443.1 C1591.9,442.6 1593.6,441.7 1594.6,439.8 C1595.5,437.8 1595.5,433.4 1596.2,431.4 C1596.9,429.5 1597.9,427.7 1598.7,428.1 C1599.6,428.5 1600.7,430.7 1601.3,433.9 C1601.8,437.1 1601.4,444.8 1602.1,447.3 C1602.8,449.8 1604.5,448.6 1605.4,449.0 C1606.4,449.4 1607.1,449.1 1607.9,449.8 C1608.8,450.5 1609.8,453.6 1610.5,453.2 C1611.2,452.8 1611.7,451.6 1612.1,447.3 C1612.6,443.0 1612.4,431.8 1613.0,427.2 C1613.5,422.6 1614.2,421.1 1615.5,419.7 C1616.7,418.3 1619.0,420.0 1620.5,418.9 C1622.0,417.8 1623.3,414.3 1624.7,413.0 C1626.1,411.8 1627.6,410.4 1628.9,411.3 C1630.1,412.3 1631.1,416.1 1632.2,418.9 C1633.3,421.7 1634.3,426.0 1635.6,428.1 C1636.8,430.2 1638.8,427.9 1639.7,431.4 C1640.7,434.9 1640.9,443.3 1641.4,449.0 C1641.9,454.7 1642.1,462.2 1642.6,465.7 C1643.1,469.2 1643.6,470.5 1644.3,469.9 C1644.9,469.4 1645.8,466.7 1646.4,462.4 C1647.1,458.1 1647.4,449.0 1648.1,444.0 C1648.8,439.0 1649.7,435.0 1650.6,432.3 C1651.6,429.5 1652.6,428.2 1654.0,427.2 C1655.4,426.3 1657.0,427.1 1659.0,426.4 C1660.9,425.7 1664.0,424.6 1665.7,423.1 C1667.4,421.5 1667.6,418.9 1669.0,417.2 C1670.4,415.5 1672.4,414.3 1674.1,413.0 C1675.7,411.8 1677.7,411.8 1679.1,409.7 C1680.5,407.6 1681.5,403.9 1682.4,400.5 C1683.4,397.0 1684.1,392.4 1684.9,388.7 C1685.8,385.1 1686.2,381.8 1687.4,378.7 C1688.7,375.6 1690.7,373.7 1692.5,370.3 C1694.3,367.0 1696.5,360.9 1698.3,358.6 C1700.1,356.4 1702.0,356.1 1703.3,356.9 C1704.7,357.8 1705.6,363.6 1706.7,363.6 C1707.8,363.6 1708.8,359.7 1710.0,356.9 C1711.3,354.2 1712.4,349.4 1714.2,346.9 C1716.0,344.4 1718.4,342.7 1720.9,341.9 C1723.4,341.1 1726.8,343.1 1729.3,342.2 C1731.8,341.4 1733.8,338.5 1736.0,336.9 C1738.2,335.3 1740.4,333.7 1742.7,332.7 C1744.9,331.7 1747.1,331.0 1749.4,331.0 C1751.6,331.0 1753.8,333.0 1756.1,332.7 C1758.3,332.4 1760.8,330.2 1762.8,329.3 C1764.7,328.5 1766.1,328.8 1767.8,327.7 C1769.5,326.5 1770.0,323.5 1772.8,322.6 C1775.6,321.7 1781.5,322.2 1784.5,322.3 C1787.6,322.4 1788.7,323.1 1791.2,323.5 C1793.7,323.8 1797.1,323.9 1799.6,324.3 C1802.1,324.7 1804.0,325.7 1806.3,326.0 C1808.5,326.3 1811.2,325.4 1813.0,326.0 C1814.8,326.5 1815.9,328.2 1817.2,329.3 C1818.4,330.5 1819.2,331.8 1820.4,333.1 C1821.6,334.3 1822.8,336.2 1824.6,336.9 C1826.4,337.7 1829.3,337.7 1831.3,337.6 C1833.2,337.5 1834.6,337.2 1836.3,336.4 C1838.0,335.6 1839.6,333.3 1841.3,333.1 C1843.0,332.8 1844.8,333.8 1846.3,334.7 C1847.9,335.7 1849.4,337.1 1850.5,338.9 C1851.6,340.7 1852.3,342.3 1853.0,345.6 C1853.8,349.0 1854.5,354.0 1855.0,359.0 C1855.6,364.0 1855.9,370.2 1856.4,375.7 C1856.9,381.3 1857.5,388.3 1858.1,392.5 C1858.6,396.7 1859.2,400.8 1859.7,400.8 C1860.3,400.8 1860.9,396.7 1861.4,392.5 C1861.9,388.3 1862.3,381.3 1862.7,375.7 C1863.2,370.2 1863.4,364.0 1863.9,359.0 C1864.4,354.0 1864.9,349.8 1865.6,345.6 C1866.3,341.4 1867.1,337.8 1868.1,333.9 C1869.1,330.0 1870.3,326.4 1871.4,322.2 C1872.6,318.0 1873.7,313.2 1874.8,308.8 C1875.9,304.3 1877.2,298.7 1878.1,295.4 C1879.1,292.1 1879.7,290.5 1880.7,288.7 C1881.6,286.9 1882.7,285.4 1884.0,284.5 C1885.3,283.7 1887.3,286.6 1888.5,283.7 C1889.7,280.8 1890.7,273.9 1891.2,266.9 C1891.7,260.0 1891.6,249.2 1891.7,241.8 C1891.8,234.5 1891.9,222.8 1892.0,222.8 C1892.1,222.8 1892.2,234.5 1892.4,241.8 C1892.5,249.2 1892.7,259.7 1892.9,266.9 C1893.1,274.2 1893.3,279.2 1893.5,285.4 C1893.8,291.5 1894.0,301.3 1894.5,303.8 C1895.0,306.3 1895.9,302.6 1896.6,300.4 C1897.2,298.2 1897.4,292.5 1898.2,290.4 C1899.0,288.3 1900.7,288.3 1901.2,287.9"/>
</g>
<g fill="#000" shape-rendering="crispEdges"><rect x="168" y="1317" width="5" height="22"/><rect x="472" y="1317" width="5" height="22"/><rect x="776" y="1317" width="5" height="22"/><rect x="1080" y="1317" width="5" height="22"/><rect x="1384" y="1317" width="5" height="22"/><rect x="1688" y="1317" width="5" height="22"/><rect x="320" y="1329" width="5" height="10"/><rect x="624" y="1329" width="5" height="10"/><rect x="928" y="1329" width="5" height="10"/><rect x="1232" y="1329" width="5" height="10"/><rect x="1536" y="1329" width="5" height="10"/><rect x="1840" y="1329" width="5" height="10"/><rect x="16" y="17" width="6" height="1326"/><rect x="1901" y="17" width="5" height="1326"/><rect x="16" y="17" width="1890" height="5"/><rect x="16" y="1338" width="1890" height="5"/></g>
<text x="170.9" y="1404.6" font-size="50" text-anchor="middle">3500</text>
<text x="474.9" y="1404.6" font-size="50" text-anchor="middle">3000</text>
<text x="778.9" y="1404.6" font-size="50" text-anchor="middle">2500</text>
<text x="1082.8" y="1404.6" font-size="50" text-anchor="middle">2000</text>
<text x="1386.8" y="1404.6" font-size="50" text-anchor="middle">1500</text>
<text x="1690.8" y="1404.6" font-size="50" text-anchor="middle">1000</text>
<text x="663.3" y="1473" font-size="60.3">Wavenumbers<tspan class="b">(</tspan>cm<tspan font-size="42" dy="-25">−1</tspan><tspan class="b" dy="25">)</tspan></text>
<text x="848" y="133.3" font-size="40">a</text>
<text x="847.5" y="370.6" font-size="40">b</text>
<text class="b" x="379.8" y="178.9" font-size="38.2"><tspan>-CH</tspan><tspan font-size="27" dy="10.8">2</tspan><tspan dy="-10.8">-CH</tspan><tspan font-size="27" dy="10.8">2</tspan><tspan dy="-10.8">-</tspan></text>
<text class="b" x="333.8" y="593.0" font-size="38.2"><tspan>-NH</tspan><tspan font-size="27" dy="10.0">2</tspan></text>
<text class="b" x="330.8" y="1097.1" font-size="38.2"><tspan>CH</tspan><tspan font-size="27" dy="10.9">3</tspan><tspan dy="-10.9">-</tspan></text>
<text class="b" x="1116.5" y="936.9" font-size="38.2"><tspan>-CO-NH-</tspan></text>
<text class="b" x="1657.6" y="582" font-size="33" stroke="#000" stroke-width="0.6">（</text>
<text class="b" x="1696.2" y="584.9" font-size="38.2"><tspan>CH</tspan><tspan font-size="27" dy="11.0" dx="-1.3">2</tspan><tspan dy="-11.0" dx="-1.2">)</tspan><tspan font-size="27" dy="11.0" dx="-0.6">14</tspan></text>
<g fill="#000" shape-rendering="crispEdges"><polygon points="522.0,288.7 522.0,241.3 529.1,241.3 518.5,196.8 507.9,241.3 515.0,241.3 515.0,288.7"/><polygon points="580.4,285.1 565.5,230.9 572.3,229.0 550.3,188.9 551.9,234.6 558.7,232.7 573.6,286.9"/><polygon points="296.1,489.1 334.0,534.0 328.6,538.6 365.4,565.8 344.8,524.9 339.4,529.5 301.5,484.5"/><polygon points="423.8,379.5 392.7,517.6 385.8,516.1 386.4,561.8 406.5,520.7 399.6,519.2 430.6,381.1"/><polygon points="505.1,1014.0 456.1,1046.2 452.2,1040.3 420.9,1073.6 463.9,1058.0 460.0,1052.0 508.9,1019.8"/><polygon points="1287.9,844.0 1239.8,875.3 1235.9,869.3 1204.4,902.5 1247.5,887.1 1243.6,881.2 1291.7,849.8"/><polygon points="1844.0,408.6 1809.5,490.0 1803.0,487.2 1795.4,532.3 1822.5,495.5 1816.0,492.7 1850.4,411.4"/></g>
</svg>
</body></html>
